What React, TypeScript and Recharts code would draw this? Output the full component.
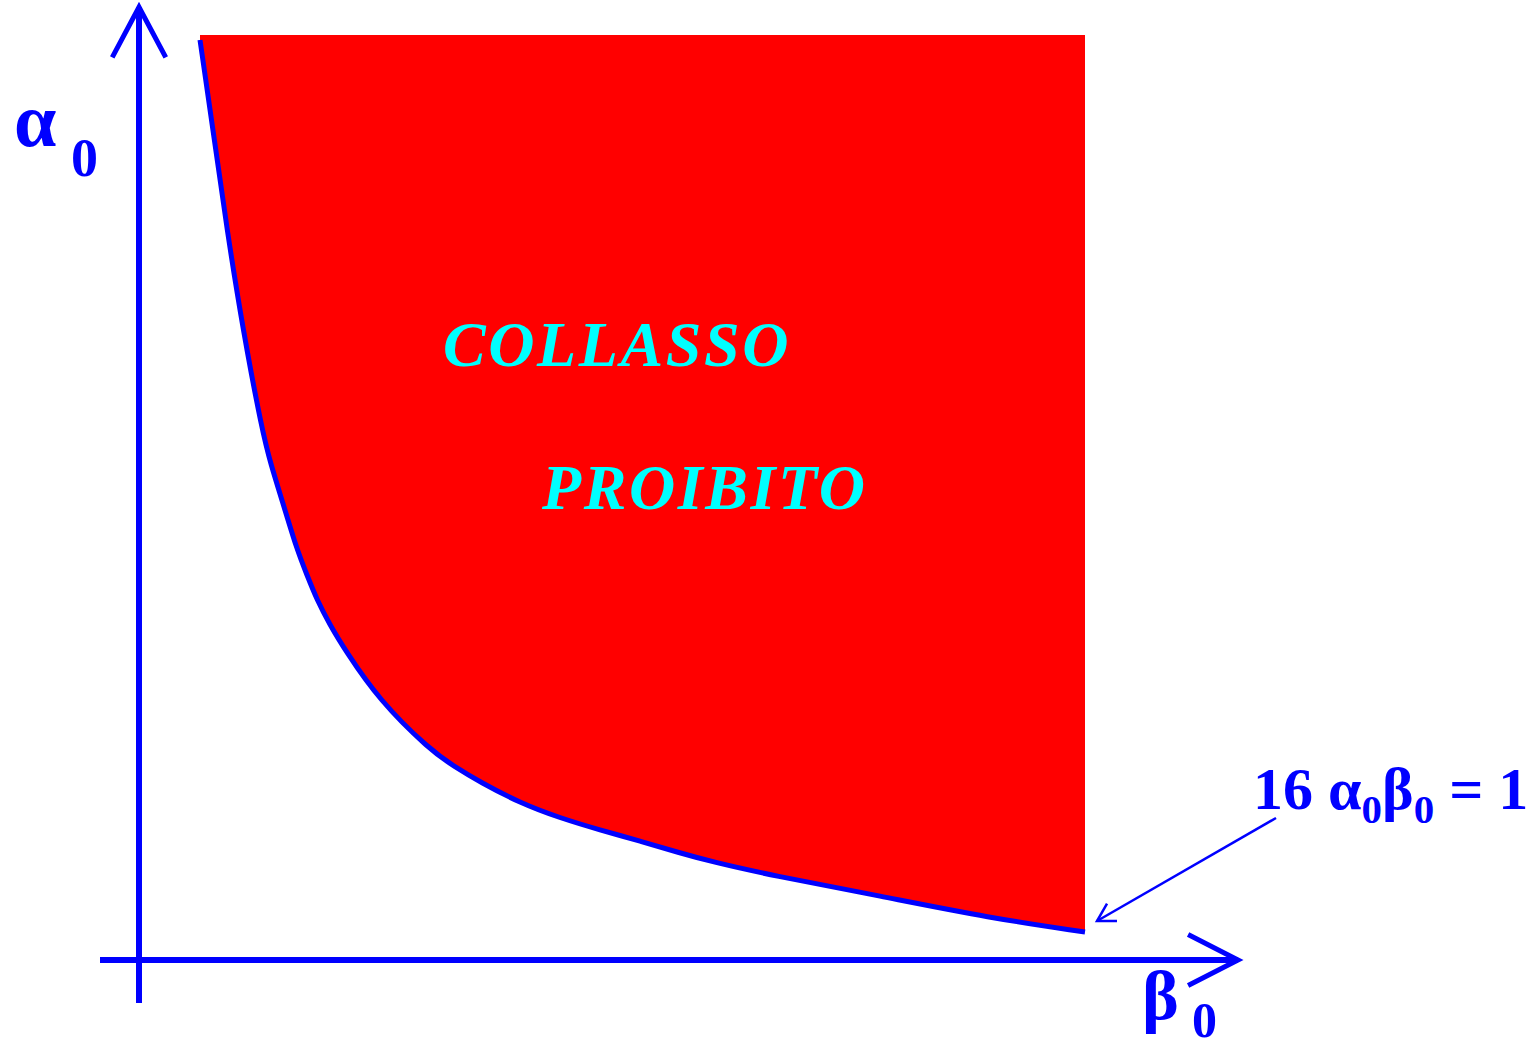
import { ComposedChart, Area, Line, XAxis, YAxis, ReferenceLine, ReferenceDot } from "recharts"

// beta_0 along the curve (arbitrary units)
const betaValues = [
  0.61, 0.74, 0.88, 1.04, 1.23, 1.32, 1.43, 1.58, 1.68, 1.78, 1.91, 2.06, 2.4, 2.91, 3.16, 3.41, 3.81, 4.21, 4.61,
  5.01, 5.41, 5.74, 6.31, 7.41, 8.51, 9.46,
]
// alpha_0 on the boundary 16 a0 b0 = 1
const alphaValues = [
  9.2, 8.3, 7.3, 6.3, 5.3, 4.95, 4.6, 4.1, 3.85, 3.6, 3.35, 3.1, 2.6, 2.1, 1.93, 1.78, 1.57, 1.42, 1.3, 1.19,
  1.07, 0.98, 0.85, 0.64, 0.42, 0.28,
]
// top of the forbidden region
const alphaTop = 9.25

const regionLabels = ["COLLASSO", "PROIBITO"]

const data = betaValues.map((beta, i) => ({
  beta,
  alpha: alphaValues[i],
  band: [alphaValues[i], alphaTop],
}))

const BLUE = "#0000ff"

// line with an open chevron head at (x2, y2)
function arrow(len: number, halfAngle: number, lineW: number, headW: number) {
  return (props: any) => {
    const { x1, y1, x2, y2 } = props
    const ang = Math.atan2(y1 - y2, x1 - x2)
    const a = (halfAngle * Math.PI) / 180
    const p1 = `${x2 + len * Math.cos(ang + a)},${y2 + len * Math.sin(ang + a)}`
    const p2 = `${x2 + len * Math.cos(ang - a)},${y2 + len * Math.sin(ang - a)}`
    return (
      <g>
        <line x1={x1} y1={y1} x2={x2} y2={y2} stroke={BLUE} strokeWidth={lineW} />
        <polyline points={`${p1} ${x2},${y2} ${p2}`} fill="none" stroke={BLUE} strokeWidth={headW} />
      </g>
    )
  }
}

// cyan italic caption drawn at a reference dot
function caption(text: string) {
  return (props: any) => {
    const { x, y } = props.viewBox
    return (
      <text
        x={x}
        y={y}
        fill="#00ffff"
        fontFamily="Liberation Serif"
        fontWeight="bold"
        fontStyle="italic"
        fontSize={64}
        letterSpacing={2.6}
      >
        {text}
      </text>
    )
  }
}

export default function App() {
  return (
    <div style={{ position: "absolute", left: 0, top: 0 }}>
      <ComposedChart width={1535} height={1049} data={data} margin={{ top: 10, right: 396, bottom: 89, left: 139 }}>
        <XAxis hide type="number" dataKey="beta" domain={[0, 10]} allowDataOverflow />
        <YAxis hide type="number" domain={[0, 9.5]} allowDataOverflow />
        <Area type="basis" dataKey="band" fill="#ff0000" fillOpacity={1} stroke="none" isAnimationActive={false} />
        <Line type="basis" dataKey="alpha" stroke={BLUE} strokeWidth={5} dot={false} isAnimationActive={false} />
        {/* axes */}
        <ReferenceLine
          segment={[{ x: 0, y: -0.43 }, { x: 0, y: 9.53 }]}
          ifOverflow="visible"
          shape={arrow(57, 28, 6, 5)}
        />
        <ReferenceLine
          segment={[{ x: -0.39, y: 0 }, { x: 10.99, y: 0 }]}
          ifOverflow="visible"
          shape={arrow(56, 27, 6, 5)}
        />
        {/* pointer to the curve */}
        <ReferenceLine
          segment={[{ x: 11.37, y: 1.42 }, { x: 9.58, y: 0.39 }]}
          ifOverflow="visible"
          shape={arrow(20, 30, 2.5, 2.5)}
        />
        <ReferenceDot x={3.04} y={5.94} r={0} fill="none" stroke="none" ifOverflow="visible" label={caption(regionLabels[0])} />
        <ReferenceDot x={4.03} y={4.51} r={0} fill="none" stroke="none" ifOverflow="visible" label={caption(regionLabels[1])} />
        <text x={14} y={146} fill={BLUE} fontFamily="Liberation Serif" fontWeight="bold" fontSize={76}>
          α
        </text>
        <text x={71} y={176} fill={BLUE} fontFamily="Liberation Serif" fontWeight="bold" fontSize={54}>
          0
        </text>
        <text x={1142} y={1019} fill={BLUE} fontFamily="Liberation Serif" fontWeight="bold" fontSize={70}>
          β
        </text>
        <text x={1192} y={1037} fill={BLUE} fontFamily="Liberation Serif" fontWeight="bold" fontSize={50}>
          0
        </text>
        <text x={1253} y={809} fill={BLUE} fontFamily="Liberation Serif" fontWeight="bold" fontSize={60}>
          16 α
          <tspan fontSize={41} dy={14}>0</tspan>
          <tspan dy={-14}>β</tspan>
          <tspan fontSize={41} dy={14}>0</tspan>
          <tspan dy={-14}> = 1</tspan>
        </text>
      </ComposedChart>
    </div>
  )
}
